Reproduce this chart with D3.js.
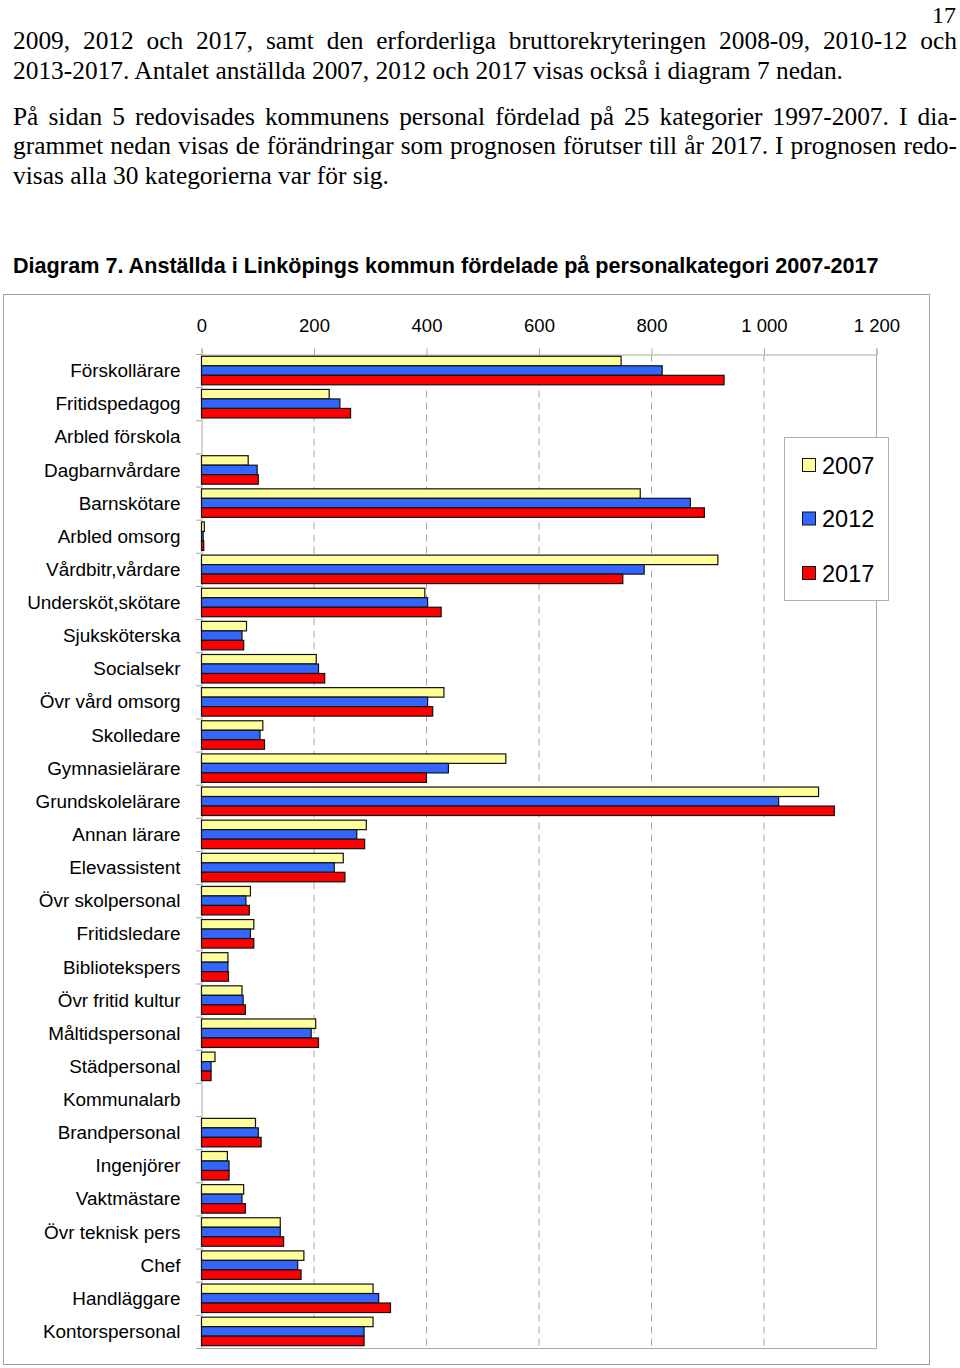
<!DOCTYPE html>
<html>
<head>
<meta charset="utf-8">
<script src="https://cdn.jsdelivr.net/npm/d3@7"></script>
<style>
  html, body { margin: 0; padding: 0; background: #fff; }
  svg { display: block; }
</style>
</head>
<body>
<svg id="chart" width="960" height="1368"></svg>
<script>
const categories = ["Förskollärare","Fritidspedagog","Arbled förskola","Dagbarnvårdare","Barnskötare","Arbled omsorg","Vårdbitr,vårdare","Undersköt,skötare","Sjuksköterska","Socialsekr","Övr vård omsorg","Skolledare","Gymnasielärare","Grundskolelärare","Annan lärare","Elevassistent","Övr skolpersonal","Fritidsledare","Bibliotekspers","Övr fritid kultur","Måltidspersonal","Städpersonal","Kommunalarb","Brandpersonal","Ingenjörer","Vaktmästare","Övr teknisk pers","Chef","Handläggare","Kontorspersonal"];
const years = ["2007","2012","2017"];
const v2007 = [746, 227, 0, 83, 780, 5, 918, 397, 80, 204, 431, 109, 541, 1097, 293, 252, 87, 93, 47, 72, 203, 24, 0, 96, 46, 75, 140, 182, 305, 305];
const v2012 = [819, 246, 0, 99, 869, 3, 787, 402, 72, 208, 402, 104, 439, 1026, 276, 236, 79, 87, 47, 74, 195, 17, 0, 101, 49, 72, 140, 171, 315, 289];
const v2017 = [929, 265, 0, 101, 894, 4, 749, 426, 75, 219, 411, 112, 400, 1125, 290, 255, 85, 93, 48, 78, 208, 17, 0, 106, 49, 78, 146, 177, 336, 289];
const tickValues = [0, 200, 400, 600, 800, 1000, 1200];
const tickLabels = ["0", "200", "400", "600", "800", "1 000", "1 200"];
const colors = ["#FFFF99", "#3366FF", "#FF0000"];

const pageLines = [
  {t: "2009, 2012 och 2017, samt den erforderliga bruttorekryteringen 2008-09, 2010-12 och", y: 49, j: true},
  {t: "2013-2017. Antalet anställda 2007, 2012 och 2017 visas också i diagram 7 nedan.", y: 78.5, j: false},
  {t: "På sidan 5 redovisades kommunens personal fördelad på 25 kategorier 1997-2007. I dia-", y: 124.5, j: true},
  {t: "grammet nedan visas de förändringar som prognosen förutser till år 2017. I prognosen redo-", y: 154, j: true},
  {t: "visas alla 30 kategorierna var för sig.", y: 183.5, j: false}
];
const title = "Diagram 7. Anställda i Linköpings kommun fördelade på personalkategori 2007-2017";

const svg = d3.select("#chart");
svg.append("rect").attr("width", 960).attr("height", 1368).attr("fill", "#fff");

const serif = "'Liberation Serif', 'Times New Roman', serif";
const bodySize = 25.4;

// page number
svg.append("text").attr("x", 956).attr("y", 22.5).attr("text-anchor", "end")
  .attr("font-family", serif).attr("font-size", 24)
  .text("17");

// body text
const L = 13, R = 957;
pageLines.forEach(l => {
  const t = svg.append("text").attr("x", L).attr("y", l.y)
    .attr("font-family", serif)
    .attr("font-size", bodySize).attr("fill", "#000")
    .attr("xml:space", "preserve")
    .text(l.t);
  if (l.j) {
    const len = t.node().getComputedTextLength();
    const n = (l.t.match(/ /g) || []).length;
    const extra = (R - L - len) / n;
    t.style("word-spacing", extra + "px");
  }
});

// title
svg.append("text").attr("x", 13).attr("y", 273)
  .attr("font-family", "'Liberation Sans', Arial, sans-serif").attr("font-weight", "bold")
  .attr("font-size", 21.6).attr("fill", "#000").text(title);

// chart frame
svg.append("rect").attr("x", 3.5).attr("y", 294.5).attr("width", 926).attr("height", 1070)
  .attr("fill", "#fff").attr("stroke", "#a0a0a0").attr("stroke-width", 1);

const x = d3.scaleLinear().domain([0, 1200]).range([201, 876]);
const y = d3.scaleBand().domain(categories).range([354.5, 1348.5]).paddingInner(0).paddingOuter(0);
const inner = d3.scaleBand().domain(years).range([1.8, 30.3]);

const font = "'Liberation Sans', Arial, sans-serif";

// gridlines
const g = svg.append("g");
g.selectAll("line.grid").data(tickValues.filter(v => v > 0 && v < 1200)).join("line")
  .attr("x1", d => x(d) + 0.5).attr("x2", d => x(d) + 0.5)
  .attr("y1", 354.5).attr("y2", 1348.5)
  .attr("stroke", "#a8a8a8").attr("stroke-width", 1).attr("stroke-dasharray", "7,5");
// plot border right + bottom
g.append("line").attr("x1", x(1200) + 0.5).attr("x2", x(1200) + 0.5).attr("y1", 354.5).attr("y2", 1348.5)
  .attr("stroke", "#a8a8a8");
g.append("line").attr("x1", 201).attr("x2", x(1200) + 0.5).attr("y1", 1348.5).attr("y2", 1348.5)
  .attr("stroke", "#a8a8a8");

// top axis
const xAxis = d3.axisTop(x).tickValues(tickValues).tickFormat((d, i) => tickLabels[i]).tickSize(6).tickPadding(17);
const ga = svg.append("g").attr("transform", "translate(0.5,354.5)").call(xAxis);
ga.select(".domain").attr("stroke", "#a8a8a8");
ga.selectAll(".tick line").attr("stroke", "#a8a8a8");
ga.selectAll(".tick text").attr("font-family", font).attr("font-size", 18.5).attr("fill", "#000");

// left axis
const yAxis = d3.axisLeft(y).tickSize(0).tickPadding(21);
const gy = svg.append("g").attr("transform", "translate(201.5,0)").call(yAxis);
gy.select(".domain").attr("stroke", "#a8a8a8");
gy.selectAll(".tick text").attr("font-family", font).attr("font-size", 18.9).attr("fill", "#000");
// boundary ticks
svg.append("g").selectAll("line").data(d3.range(categories.length + 1)).join("line")
  .attr("x1", 196).attr("x2", 201.5)
  .attr("y1", i => y.range()[0] + i * y.step()).attr("y2", i => y.range()[0] + i * y.step())
  .attr("stroke", "#a8a8a8");

// bars
const series = [v2007, v2012, v2017];
const bars = svg.append("g");
series.forEach((vals, si) => {
  bars.selectAll("rect.s" + si).data(categories.map((c, i) => ({c, v: vals[i]})).filter(d => d.v > 0))
    .join("rect").attr("class", "s" + si)
    .attr("x", x(0) + 0.5)
    .attr("y", d => y(d.c) + inner(years[si]))
    .attr("width", d => x(d.v) - x(0))
    .attr("height", inner.bandwidth())
    .attr("fill", colors[si]).attr("stroke", "#111").attr("stroke-width", 1.2);
});

// legend
const lg = svg.append("g");
lg.append("rect").attr("x", 784.5).attr("y", 437.5).attr("width", 104).attr("height", 163)
  .attr("fill", "#fff").attr("stroke", "#b0b0b0");
const ly = [465, 518.5, 573];
years.forEach((yr, i) => {
  lg.append("rect").attr("x", 802.5).attr("y", ly[i] - 6.5).attr("width", 13).attr("height", 13)
    .attr("fill", colors[i]).attr("stroke", "#111").attr("stroke-width", 1);
  lg.append("text").attr("x", 822).attr("y", ly[i] + 8.5)
    .attr("font-family", font).attr("font-size", 23.5).attr("fill", "#000").text(yr);
});
</script>
</body>
</html>
